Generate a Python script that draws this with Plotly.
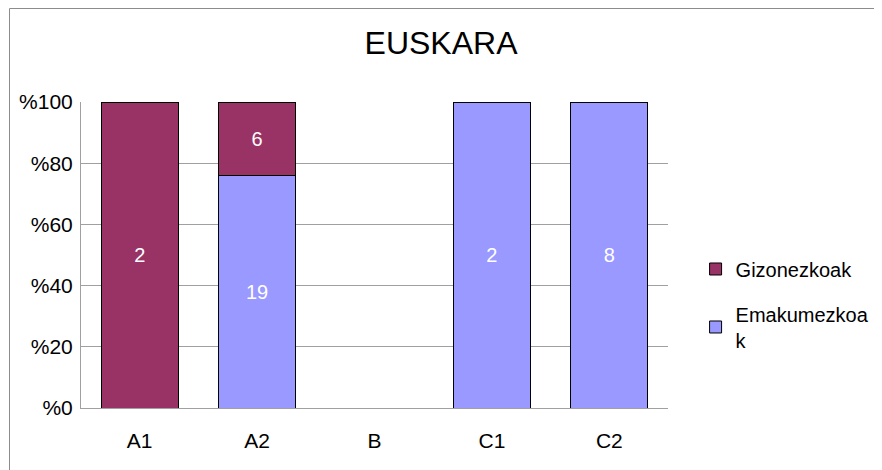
import plotly.graph_objects as go

categories = ["A1", "A2", "B", "C1", "C2"]
gizonezkoak = [2, 6, 0, 0, 0]
emakumezkoak = [0, 19, 0, 2, 8]
ytick_vals = [0, 20, 40, 60, 80, 100]
ytick_text = ["%0", "%20", "%40", "%60", "%80", "%100"]

FONT = "Liberation Sans, Arial"
W, H = 874, 462   # page body has an 8px margin

def labels(vals):
    return [str(v) if v else "" for v in vals]

fig = go.Figure()
fig.add_trace(go.Bar(
    x=categories, y=emakumezkoak, name="Emakumezkoa<br>k",
    legendgroup="g2", legendrank=2,
    marker=dict(color="#9999FF", line=dict(color="#000000", width=1)),
    text=labels(emakumezkoak), textposition="inside", insidetextanchor="middle",
    textfont=dict(color="white", size=20, family=FONT),
))
fig.add_trace(go.Bar(
    x=categories, y=gizonezkoak, name="Gizonezkoak",
    legendgroup="g1", legendrank=1,
    marker=dict(color="#993366", line=dict(color="#000000", width=1)),
    text=labels(gizonezkoak), textposition="inside", insidetextanchor="middle",
    textfont=dict(color="white", size=20, family=FONT),
))

fig.update_layout(
    width=W, height=H,
    barmode="stack", barnorm="percent", bargap=0.345,
    paper_bgcolor="white", plot_bgcolor="white",
    margin=dict(l=73, r=W - 73 - 587, t=94, b=H - 94 - 306, pad=0, autoexpand=False),
    font=dict(family=FONT, size=20, color="black"),
    title=dict(text="EUSKARA", x=433 / W, xanchor="center", xref="container",
               y=1 - 35 / H, yanchor="middle", yref="container",
               font=dict(size=32, color="black"), automargin=False),
    showlegend=True,
    legend=dict(x=1.047, xanchor="left", y=0.518, yanchor="top",
                traceorder="grouped", font=dict(size=20),
                itemwidth=30, tracegroupgap=16, bgcolor="rgba(0,0,0,0)"),
    uniformtext=dict(mode="show", minsize=10),
    shapes=[dict(type="rect", xref="paper", yref="paper",
                 x0=(9.5 - 81) / 587, x1=(900 - 81) / 587,
                 y0=(408 - 490) / 306, y1=(408 - 8.5) / 306,
                 line=dict(color="#8c8c8c", width=1), fillcolor="rgba(0,0,0,0)",
                 layer="below")],
)
fig.update_xaxes(showline=True, linecolor="#a0a0a0", linewidth=1, showgrid=False,
                 ticks="", ticklabelstandoff=14, tickfont=dict(size=21),
                 automargin=False)
fig.update_yaxes(range=[0, 100], tickvals=ytick_vals, ticktext=ytick_text,
                 showline=True, linecolor="#a0a0a0", linewidth=1,
                 showgrid=True, gridcolor="#a0a0a0", gridwidth=1,
                 ticks="", ticklabelstandoff=3, tickfont=dict(size=21), zeroline=False,
                 automargin=False)

fig.write_html("out.html")
